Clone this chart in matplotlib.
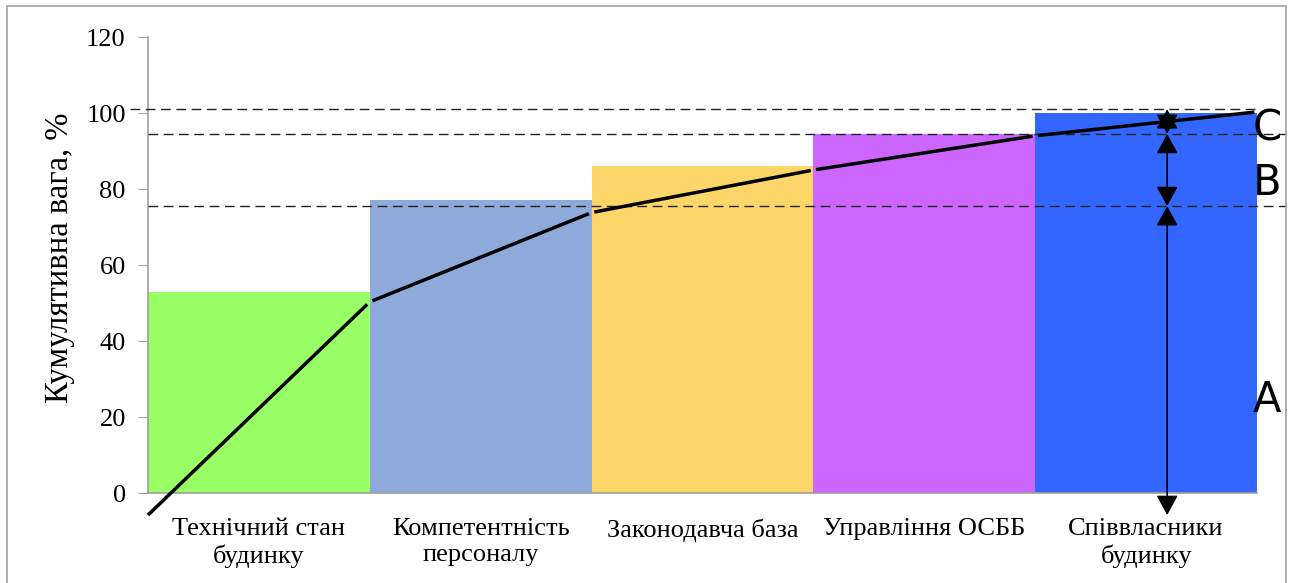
import matplotlib
matplotlib.use("Agg")
import matplotlib.pyplot as plt
from matplotlib.patches import Rectangle

# Cumulative weight per factor group
categories = ["Технічний стан\nбудинку", "Компетентність\nперсоналу", "Законодавча база",
              "Управління ОСББ", "Співвласники\nбудинку"]
cum_weight = [53, 77, 86, 94.5, 100]
bar_colors = ["#99FF66", "#8EAADB", "#FCD669", "#CC66FF", "#3366FF"]

# Cumulative curve, evaluated at bar edges
curve_x = [-0.5, 0.5, 1.5, 2.5, 3.5, 4.5]
curve_y = [-5.8, 50.3, 73.8, 85.0, 94.0, 100.3]

# Zone boundaries (A / B / C)
bound_ab = 75.5
bound_bc = 94.5
bound_top = 101
arrow_x = 4.095
arrow_bottom = -5.8
zone_labels = [("A", 24.5), ("B", 81.5), ("C", 96)]

serif = "Liberation Serif"

fig = plt.figure(figsize=(12.93, 5.83), dpi=100)
ax = fig.add_axes([148 / 1293, 1 - 493 / 583, 1109 / 1293, 456 / 583])

ax.bar(range(len(categories)), cum_weight, width=1.0, color=bar_colors, zorder=1)

# curve drawn piecewise with tiny gaps at the joins
for i in range(len(curve_x) - 1):
    x0, x1 = curve_x[i], curve_x[i + 1]
    y0, y1 = curve_y[i], curve_y[i + 1]
    g = 0.012
    ax.plot([x0 + (x1 - x0) * (g if i else 0), x1 - (x1 - x0) * g],
            [y0 + (y1 - y0) * (g if i else 0), y1 - (y1 - y0) * g],
            color="black", lw=2.5, solid_capstyle="butt", clip_on=False, zorder=4)

dash = dict(color="#222222", lw=1.0, ls=(0, (7, 4)), clip_on=False, zorder=3)
ax.plot([-0.58, 4.51], [bound_top, bound_top], **dash)
ax.plot([-0.5, 4.63], [bound_bc, bound_bc], **dash)
ax.plot([-0.5, 4.63], [bound_ab, bound_ab], **dash)

arrow = dict(arrowstyle="<|-|>,head_length=0.55,head_width=0.3", color="black",
             lw=1.2, mutation_scale=22, shrinkA=0, shrinkB=0)
for lo, hi in [(arrow_bottom, bound_ab), (bound_ab, bound_bc), (bound_bc, bound_top)]:
    ax.annotate("", xy=(arrow_x, lo), xytext=(arrow_x, hi),
                arrowprops=arrow, annotation_clip=False, zorder=5)

for txt, yv in zone_labels:
    ax.text(4.545, yv, txt, fontsize=30, family="DejaVu Sans", ha="center",
            va="center", zorder=6)

ax.set_xlim(-0.5, 4.5)
ax.set_ylim(0, 120)
ax.set_yticks(range(0, 121, 20))
ax.set_xticks(range(len(categories)))
ax.set_xticklabels(categories, family=serif, fontsize=19, linespacing=1.24)
ax.tick_params(axis="x", length=0, pad=18)
ax.tick_params(axis="y", length=7, color="#A0A0A0", labelsize=19, pad=9)
for lab in ax.get_yticklabels():
    lab.set_family(serif)
ax.set_ylabel("Кумулятивна вага, %", family=serif, fontsize=23.5)
ax.yaxis.set_label_coords(-0.066, 0.515)

for side in ["top", "right"]:
    ax.spines[side].set_visible(False)
for side in ["left", "bottom"]:
    ax.spines[side].set_color("#A0A0A0")
    ax.spines[side].set_linewidth(1.2)

# outer frame
fig.patches.append(Rectangle((7 / 1293, -0.05), 1279 / 1293, 1.05 - 6 / 583,
                             transform=fig.transFigure, fill=False,
                             edgecolor="#A0A0A0", lw=1.2))

fig.savefig("out.png", dpi=100)
